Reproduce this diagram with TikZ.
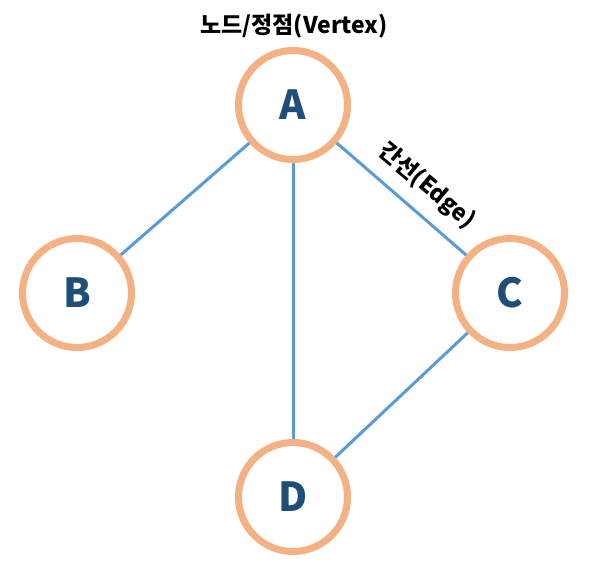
\documentclass[tikz,border=0pt]{standalone}
\usepackage{fontspec}
\newfontfamily\krfont{Noto Sans CJK KR}
\usepackage{xcolor}
\usepackage{tikz}
\usetikzlibrary{positioning,calc}

\definecolor{ringorange}{HTML}{F4B183}
\definecolor{edgeblue}{HTML}{5B9BD5}
\definecolor{letterblue}{HTML}{1F4E79}

\begin{document}
\begin{tikzpicture}[
    x=1pt, y=-1pt,
    font=\krfont\bfseries,
    vertex_node/.style={circle, draw=ringorange, line width=7pt, fill=white, minimum size=109pt, inner sep=0pt, text=letterblue, font=\krfont\bfseries\fontsize{40}{42}\selectfont},
    edge_line/.style={draw=edgeblue, line width=3pt},
    tag_label/.style={text=black, inner sep=1pt, font=\krfont\bfseries\fontsize{23}{26}\selectfont}
]
\useasboundingbox (0,0) rectangle (592,570);

% Nodes
\node (a) [vertex_node] at (293,105) {A};
\node (b) [vertex_node] at (77,293) {B};
\node (c) [vertex_node] at (510,293) {C};
\node (d) [vertex_node] at (293,497) {D};

% Labels
\node (vertexlbl) [tag_label] at (294,26) {노드/정점(Vertex)};
\node (edgelbl) [tag_label, rotate=-40] at (427,186) {간선(Edge)};

% Connections
\draw [edge_line] (a) -- (b);
\draw [edge_line] (a) -- (c);
\draw [edge_line] (a) -- (d);
\draw [edge_line] (c) -- (d);

\end{tikzpicture}
\end{document}
